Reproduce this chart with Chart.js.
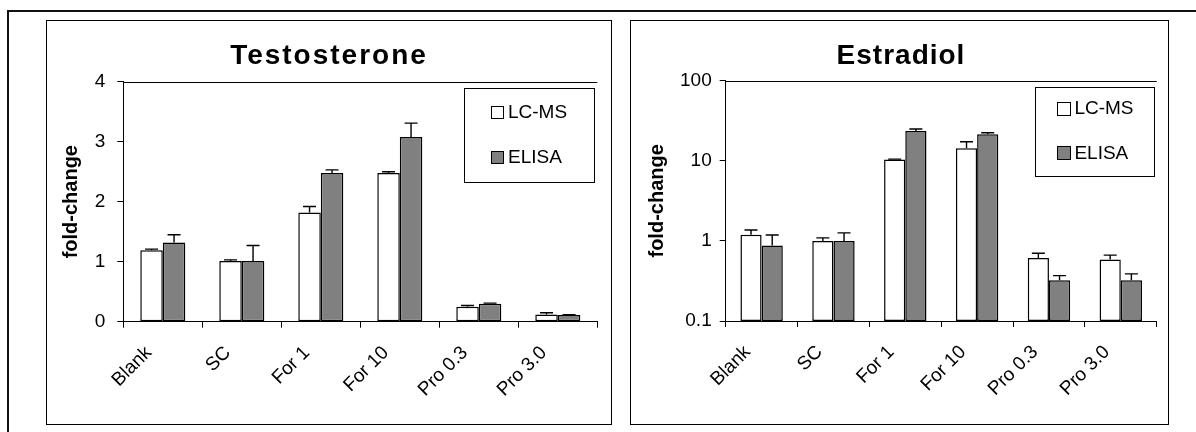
<!DOCTYPE html>
<html>
<head>
<meta charset="utf-8">
<title>Testosterone and Estradiol fold-change</title>
<script src="https://cdn.jsdelivr.net/npm/chart.js@4.4.1/dist/chart.umd.min.js"></script>
<style>
  html, body { margin: 0; padding: 0; background: #fff; }
  body { width: 1196px; height: 432px; position: relative; overflow: hidden; }
  .frame { position: absolute; left: 7px; top: 10px; width: 1300px; height: 500px;
           border-left: 2px solid #111; border-top: 2px solid #111; box-sizing: border-box; }
  .panel { position: absolute; top: 20px; height: 405px; }
  .panel canvas { position: absolute; left: 0; top: 0; }
  .edge { position: absolute; left: 0; top: 0; right: 0; bottom: 0; border: 1px solid #000;
          box-sizing: border-box; pointer-events: none; }
</style>
</head>
<body>
<div class="frame"></div>
<div class="panel" style="left:46px;width:566px;">
  <canvas id="testo" width="566" height="405"></canvas>
  <div class="edge"></div>
</div>
<div class="panel" style="left:630px;width:539px;">
  <canvas id="estra" width="539" height="405"></canvas>
  <div class="edge"></div>
</div>
<script>
// ---- data ----
const categories = ['Blank', 'SC', 'For 1', 'For 10', 'Pro 0.3', 'Pro 3.0'];
const seriesNames = ['LC-MS', 'ELISA'];

// Testosterone fold-change (mean) and upper error (SD)
const testoLcms     = [1.19, 1.01, 1.82, 2.48, 0.25, 0.12];
const testoLcmsErr  = [0.02, 0.02, 0.10, 0.02, 0.02, 0.03];
const testoElisa    = [1.32, 1.01, 2.48, 3.08, 0.30, 0.11];
const testoElisaErr = [0.13, 0.26, 0.05, 0.23, 0.01, 0.005];

// Estradiol fold-change (mean) and upper error (SD)
const estraLcms     = [1.19, 1.00, 10.4, 14.3, 0.61, 0.585];
const estraLcmsErr  = [0.18, 0.09, 0.1, 3.0, 0.09, 0.08];
const estraElisa    = [0.875, 1.00, 23.5, 21.4, 0.323, 0.323];
const estraElisaErr = [0.31, 0.26, 1.4, 1.0, 0.046, 0.064];

const testoTicks = [0, 1, 2, 3, 4];
const estraTicks = [0.1, 1, 10, 100];

const FONT = "'Liberation Sans', Arial, Helvetica, sans-serif";
Chart.defaults.font.family = FONT;
Chart.defaults.color = '#000';

const fillColors = ['#ffffff', '#808080'];

// ---- plugins ----
const panelTitle = {
  id: 'panelTitle',
  afterDraw(chart, args, o) {
    const ctx = chart.ctx;
    ctx.save();
    ctx.font = 'bold ' + o.size + 'px ' + FONT;
    ctx.letterSpacing = o.spacing + 'px';
    ctx.fillStyle = '#000';
    ctx.textAlign = 'center';
    ctx.textBaseline = 'alphabetic';
    ctx.fillText(o.text, o.x, o.y);
    ctx.restore();
  }
};

const errorBars = {
  id: 'errorBars',
  afterDatasetsDraw(chart, args, o) {
    const ctx = chart.ctx;
    const ys = chart.scales.y;
    ctx.save();
    ctx.strokeStyle = '#000';
    ctx.lineWidth = o.width;
    chart.data.datasets.forEach((ds, i) => {
      const meta = chart.getDatasetMeta(i);
      meta.data.forEach((bar, j) => {
        const py = ys.getPixelForValue(ds.data[j] + ds.errors[j]);
        ctx.beginPath();
        ctx.moveTo(bar.x, bar.y);
        ctx.lineTo(bar.x, py);
        ctx.moveTo(bar.x - o.cap / 2, py);
        ctx.lineTo(bar.x + o.cap / 2, py);
        ctx.stroke();
      });
    });
    ctx.restore();
  }
};

const plotTop = {
  id: 'plotTop',
  afterDraw(chart) {
    const {ctx, chartArea: a} = chart;
    ctx.save();
    ctx.strokeStyle = '#000';
    ctx.lineWidth = 1;
    ctx.beginPath();
    const y = Math.round(a.top) + 0.5;
    ctx.moveTo(a.left, y);
    ctx.lineTo(a.right, y);
    ctx.stroke();
    ctx.restore();
  }
};

const boxLegend = {
  id: 'boxLegend',
  afterDraw(chart, args, o) {
    const {ctx, chartArea: a} = chart;
    const x0 = Math.round(a.right - o.right - o.w);
    const y0 = Math.round(a.top + o.top);
    ctx.save();
    ctx.fillStyle = '#fff';
    ctx.fillRect(x0, y0, o.w, o.h);
    ctx.strokeStyle = '#000';
    ctx.lineWidth = 1;
    ctx.strokeRect(x0 + 0.5, y0 + 0.5, o.w, o.h);
    chart.data.datasets.forEach((ds, i) => {
      const cy = y0 + o.first + i * o.gap;
      const sx = Math.round(x0 + o.sx), sy = Math.round(cy - o.sq / 2);
      ctx.fillStyle = ds.backgroundColor;
      ctx.fillRect(sx, sy, o.sq, o.sq);
      ctx.strokeRect(sx + 0.5, sy + 0.5, o.sq, o.sq);
      ctx.fillStyle = '#000';
      ctx.font = o.size + 'px ' + FONT;
      ctx.textAlign = 'left';
      ctx.textBaseline = 'middle';
      ctx.fillText(ds.label, x0 + o.tx, cy + 1);
    });
    ctx.restore();
  }
};

function makeDatasets(series, errs, catPct) {
  return series.map((vals, i) => ({
    label: seriesNames[i],
    data: vals,
    errors: errs[i],
    backgroundColor: fillColors[i],
    borderColor: '#000',
    borderWidth: 1.5,
    borderSkipped: false,
    categoryPercentage: catPct,
    barPercentage: 1.0
  }));
}

function xAxis(height) {
  return {
    type: 'category',
    offset: true,
    grid: { display: true, drawOnChartArea: false, drawTicks: true, tickLength: 6,
            color: '#000', lineWidth: 1, offset: true },
    border: { display: true, color: '#000', width: 1 },
    ticks: { color: '#000', font: { size: 19 }, maxRotation: 45, minRotation: 45,
             autoSkip: false, padding: 14, labelOffset: -14 },
    afterFit(s) { s.height = height; }
  };
}

function yTitle(pad) {
  return { display: true, text: 'fold-change', color: '#000',
           font: { size: 20, weight: 'bold' }, padding: { top: pad, bottom: 0 } };
}

// ---- Testosterone (linear axis) ----
new Chart(document.getElementById('testo'), {
  type: 'bar',
  data: {
    labels: categories,
    datasets: makeDatasets([testoLcms, testoElisa], [testoLcmsErr, testoElisaErr], 0.57)
  },
  options: {
    responsive: false,
    animation: false,
    devicePixelRatio: 1,
    layout: { padding: { left: 0, right: 14.7, top: 61.7, bottom: 0 } },
    plugins: {
      legend: { display: false },
      tooltip: { enabled: false },
      panelTitle: { text: 'Testosterone', size: 28, spacing: 2, x: 283, y: 43.5 },
      errorBars: { cap: 13, width: 1.4 },
      boxLegend: { w: 130, h: 94, right: 3.1, top: 6.6, sx: 26.5, sq: 12, tx: 44,
                   first: 24, gap: 45, size: 19 }
    },
    scales: {
      x: xAxis(103.3),
      y: {
        min: testoTicks[0], max: testoTicks[testoTicks.length - 1],
        afterBuildTicks(s) { s.ticks = testoTicks.map(v => ({ value: v })); },
        ticks: { color: '#000', font: { size: 19 }, padding: 12 },
        grid: { drawOnChartArea: false, tickLength: 6, color: '#000' },
        border: { display: true, color: '#000', width: 1 },
        title: yTitle(13.5),
        afterFit(s) { s.width = 77.3; }
      }
    }
  },
  plugins: [errorBars, plotTop, boxLegend, panelTitle]
});

// ---- Estradiol (logarithmic axis) ----
new Chart(document.getElementById('estra'), {
  type: 'bar',
  data: {
    labels: categories,
    datasets: makeDatasets([estraLcms, estraElisa], [estraLcmsErr, estraElisaErr], 0.59)
  },
  options: {
    responsive: false,
    animation: false,
    devicePixelRatio: 1,
    layout: { padding: { left: 0, right: 12.3, top: 60.7, bottom: 0 } },
    plugins: {
      legend: { display: false },
      tooltip: { enabled: false },
      panelTitle: { text: 'Estradiol', size: 28, spacing: 1, x: 271, y: 43.5 },
      errorBars: { cap: 13, width: 1.4 },
      boxLegend: { w: 119, h: 89, right: 3.1, top: 6.6, sx: 22.2, sq: 13, tx: 39.4,
                   first: 21, gap: 44.4, size: 19 }
    },
    scales: {
      x: xAxis(104),
      y: {
        type: 'logarithmic',
        min: estraTicks[0], max: estraTicks[estraTicks.length - 1],
        afterBuildTicks(s) { s.ticks = estraTicks.map(v => ({ value: v })); },
        ticks: { color: '#000', font: { size: 19 }, padding: 8,
                 callback: v => String(v) },
        grid: { drawOnChartArea: false, tickLength: 6, color: '#000' },
        border: { display: true, color: '#000', width: 1 },
        title: yTitle(15),
        afterFit(s) { s.width = 95.7; }
      }
    }
  },
  plugins: [errorBars, plotTop, boxLegend, panelTitle]
});
</script>
</body>
</html>
